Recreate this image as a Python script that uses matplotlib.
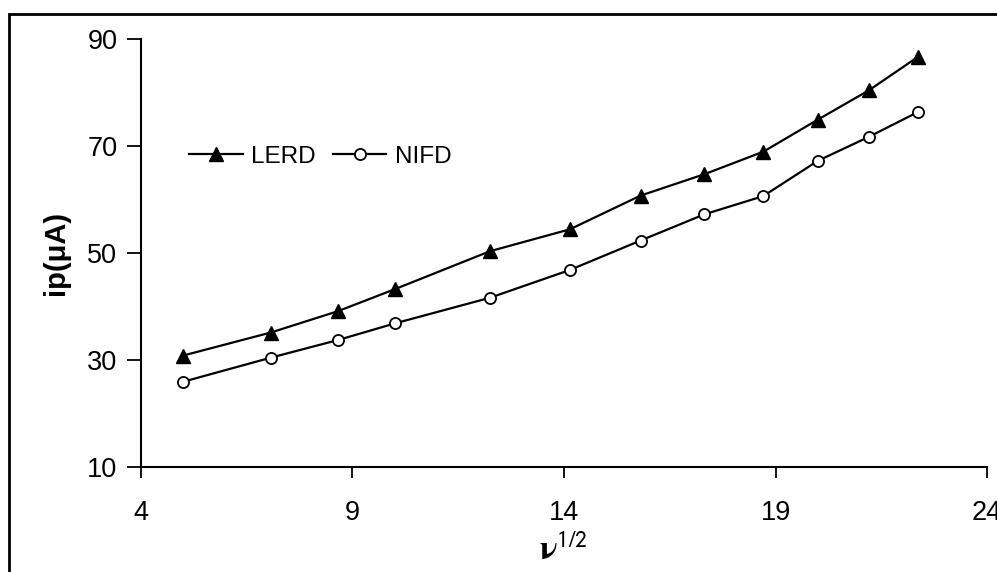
import matplotlib
matplotlib.use('Agg')
from matplotlib import pyplot as plt
from matplotlib.patches import Rectangle

# square root of scan rate
sqrt_rate = [5.00, 7.07, 8.66, 10.00, 12.25, 14.14, 15.81, 17.32, 18.71, 20.00, 21.21, 22.36]
# peak currents (uA)
lerd = [30.8, 35.1, 39.1, 43.2, 50.3, 54.4, 60.7, 64.7, 68.9, 74.9, 80.4, 86.6]
nifd = [25.9, 30.4, 33.7, 36.8, 41.6, 46.8, 52.3, 57.2, 60.6, 67.2, 71.7, 76.3]

x_ticks = [4, 9, 14, 19, 24]
y_ticks = [10, 30, 50, 70, 90]

plt.rcParams['font.family'] = ['Liberation Sans', 'DejaVu Sans']
plt.rcParams['mathtext.fontset'] = 'stix'

fig = plt.figure(figsize=(9.97, 5.72), dpi=100)
ax = fig.add_axes([0.1414, 0.184, 0.8486, 0.748])

ax.plot(sqrt_rate, lerd, color='black', lw=1.6, marker='^', ms=10,
        mfc='black', mec='black', label='LERD', clip_on=False)
ax.plot(sqrt_rate, nifd, color='black', lw=1.6, marker='o', ms=8,
        mfc='white', mec='black', mew=1.3, label='NIFD', clip_on=False)

ax.set_xlim(4, 24)
ax.set_ylim(10, 90)
ax.set_xticks(x_ticks)
ax.set_yticks(y_ticks)
ax.spines['top'].set_visible(False)
ax.spines['right'].set_visible(False)
for s in ['left', 'bottom']:
    ax.spines[s].set_linewidth(1.5)
ax.tick_params(axis='x', direction='out', length=8, width=1.3, labelsize=19.5, pad=16)
ax.tick_params(axis='y', direction='out', length=10, width=1.3, labelsize=19.5, pad=7)

ax.set_ylabel('ip(μA)', fontsize=21, fontweight='bold', labelpad=12)
ax.set_xlabel(r'$\mathbf{\nu}^{\mathsf{1/2}}$', fontsize=24, labelpad=6)

ax.legend(loc='center left', bbox_to_anchor=(0.057, 0.725), ncol=2,
          frameon=False, fontsize=17.5, borderpad=0, borderaxespad=0,
          handlelength=2.2, handletextpad=0.35, columnspacing=0.7)

# outer frame round the picture
fig.patches.append(Rectangle((9 / 997, -0.1), 1.2, (572 - 14) / 572 + 0.1,
                             transform=fig.transFigure, fill=False,
                             edgecolor='black', lw=2, zorder=0))

fig.savefig('out.png', dpi=100)
